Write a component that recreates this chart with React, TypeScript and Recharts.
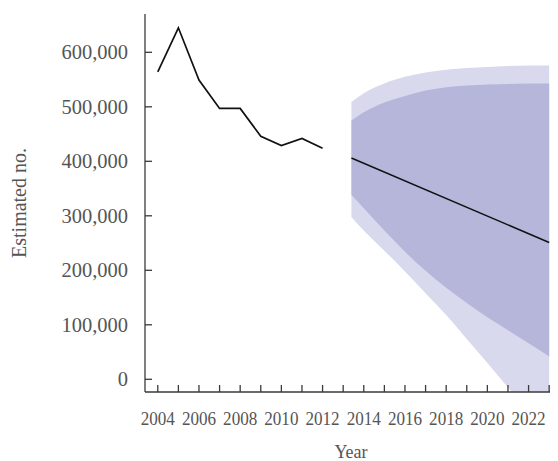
import { ComposedChart, Line, Area, XAxis, YAxis } from "recharts";

// observed estimates
const years = [2004, 2005, 2006, 2007, 2008, 2009, 2010, 2011, 2012];
const estimated = [564000, 645000, 549000, 497000, 497000, 446000, 429000, 442000, 424000];

// projection (start of projection read as ~2013.4)
const forecastYears = [2013.4, 2014, 2015, 2016, 2017, 2018, 2019, 2020, 2021, 2022, 2023];
const forecastMean = [406000, null, null, null, null, null, null, null, null, null, 251000];
const outerHigh = [509000, 525000, 543000, 555000, 563000, 568000, 571000, 573000, 575000, 576000, 576000];
const innerHigh = [475000, 490000, 508000, 520000, 530000, 536000, 539000, 541000, 542000, 543000, 543000];
const innerLow = [338000, 314000, 273000, 234000, 199000, 168000, 140000, 114000, 90000, 66000, 42000];
const outerLow = [298000, 273000, 236000, 198000, 158000, 118000, 74000, 30000, -15000, -60000, -100000];

const xTicks = [
  2004, 2005, 2006, 2007, 2008, 2009, 2010, 2011, 2012, 2013,
  2014, 2015, 2016, 2017, 2018, 2019, 2020, 2021, 2022, 2023,
];
const yTicks = [0, 100000, 200000, 300000, 400000, 500000, 600000];

const FONT = "'Liberation Serif', 'Times New Roman', serif";
const AXIS = "#3a3a3a";
const TEXT = "#555";

const data = [
  ...years.map((year, i) => ({ year, estimated: estimated[i] })),
  ...forecastYears.map((year, i) => ({
    year,
    mean: forecastMean[i],
    outer: [outerLow[i], outerHigh[i]],
    inner: [innerLow[i], innerHigh[i]],
  })),
];

const YTick = (props: any) => {
  const { x, y, payload } = props;
  return (
    <g>
      <line x1={x + 17} x2={x + 24} y1={y} y2={y} stroke={AXIS} strokeWidth={1.3} />
      <text x={x} y={y} dy="0.33em" textAnchor="end" fontSize={20.5} fill={TEXT} fontFamily={FONT}>
        {Number(payload.value).toLocaleString("en-US")}
      </text>
    </g>
  );
};

const XTick = (props: any) => {
  const { x, y, payload } = props;
  const show = payload.value % 2 === 0;
  return (
    <g>
      <line x1={x} x2={x} y1={y} y2={y - 7} stroke={AXIS} strokeWidth={1.3} />
      {show && (
        <text
          x={0}
          y={0}
          transform={`translate(${x},${y + 33}) scale(0.9,1)`}
          textAnchor="middle"
          fontSize={19}
          fill={TEXT}
          fontFamily={FONT}
        >
          {payload.value}
        </text>
      )}
    </g>
  );
};

export default function App() {
  return (
    <div style={{ width: 550, height: 453 }}>
      <ComposedChart
        width={550}
        height={453}
        data={data}
        margin={{ top: 6, right: 1, left: 0, bottom: 0 }}
      >
        <XAxis
          dataKey="year"
          type="number"
          domain={[2003.38, 2023.38]}
          allowDataOverflow
          ticks={xTicks}
          interval={0}
          height={69}
          tickSize={0}
          tickMargin={0}
          tickLine={false}
          tick={<XTick />}
          axisLine={{ stroke: AXIS, strokeWidth: 1.3 }}
          label={{
            value: "Year",
            position: "insideBottom",
            offset: 3,
            style: { fill: TEXT, fontSize: 18, fontFamily: FONT },
          }}
        />
        <YAxis
          type="number"
          domain={[-23300, 670300]}
          allowDataOverflow
          ticks={yTicks}
          interval={0}
          width={137}
          tickSize={0}
          tickMargin={17}
          tickLine={false}
          tick={<YTick />}
          axisLine={{ stroke: AXIS, strokeWidth: 1.3 }}
          label={{
            value: "Estimated no.",
            angle: -90,
            position: "insideLeft",
            offset: 11,
            style: { fill: TEXT, fontSize: 20, fontFamily: FONT, textAnchor: "middle" },
          }}
        />

        {/* projection bands */}
        <Area
          type="monotone"
          dataKey="outer"
          stroke="none"
          fill="#d9d9ed"
          fillOpacity={1}
          isAnimationActive={false}
        />
        <Area
          type="monotone"
          dataKey="inner"
          stroke="none"
          fill="#b6b6db"
          fillOpacity={1}
          isAnimationActive={false}
        />

        <Line
          type="linear"
          dataKey="mean"
          stroke="#111"
          strokeWidth={1.5}
          dot={false}
          connectNulls
          isAnimationActive={false}
        />
        <Line
          type="linear"
          dataKey="estimated"
          stroke="#111"
          strokeWidth={1.7}
          dot={false}
          isAnimationActive={false}
        />
      </ComposedChart>
    </div>
  );
}
